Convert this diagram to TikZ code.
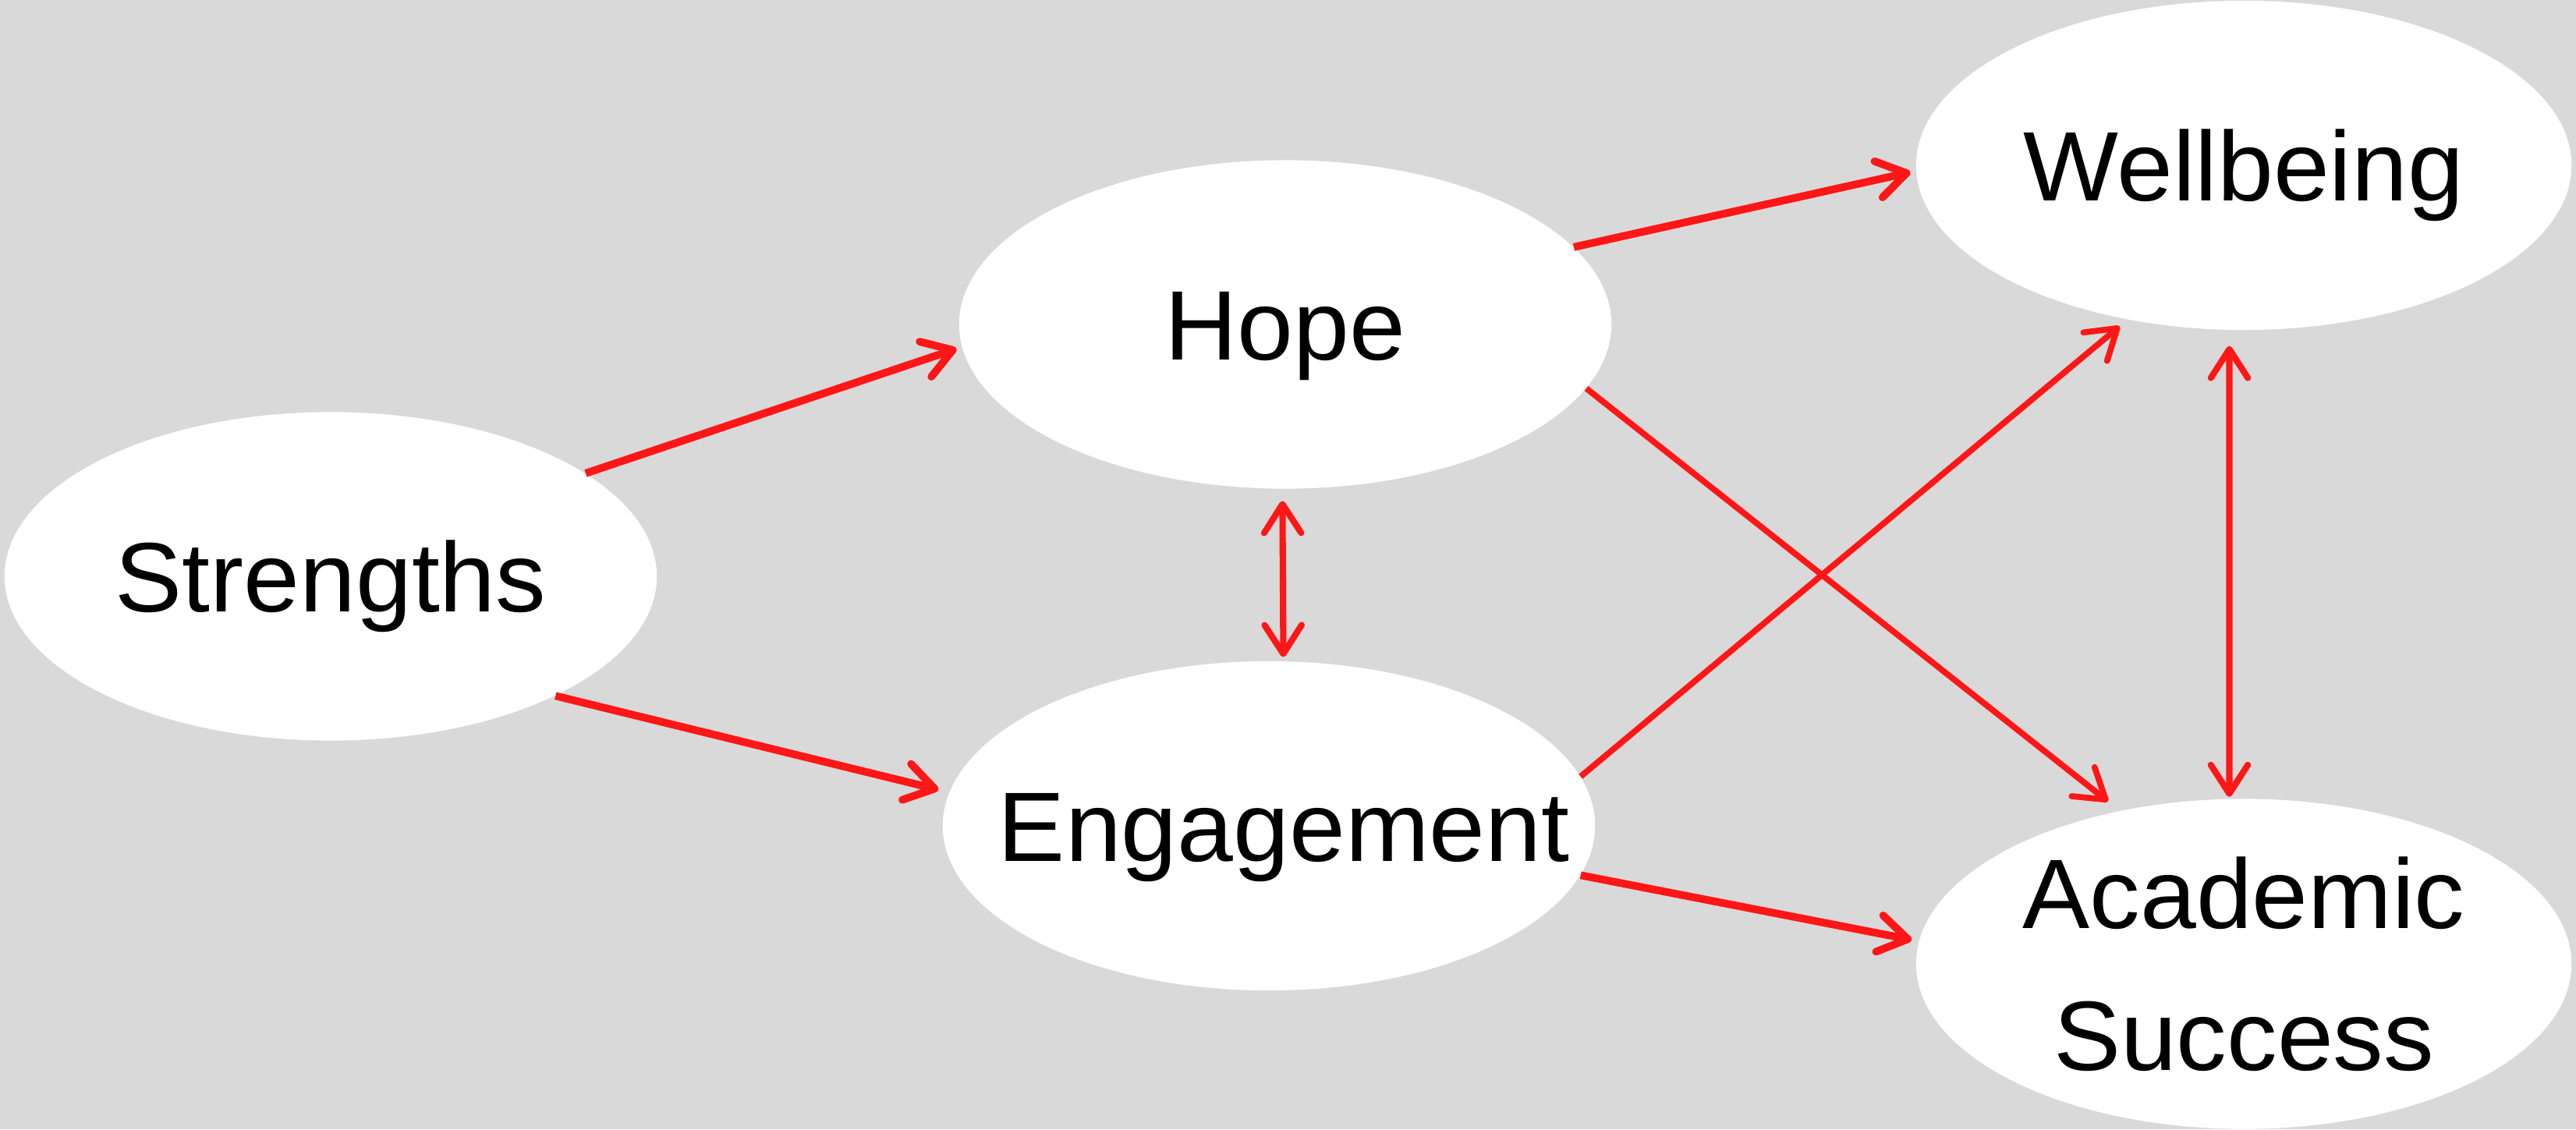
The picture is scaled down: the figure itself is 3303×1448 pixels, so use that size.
\documentclass[tikz,border=0pt]{standalone}
\usepackage{fontspec}
\setmainfont{Liberation Sans}[FakeStretch=1.02]
\usetikzlibrary{arrows.meta,shapes.geometric}
\definecolor{bg}{RGB}{217,217,217}
\definecolor{arrred}{RGB}{255,22,22}
\tikzset{
  blob/.style={ellipse, fill=white, inner sep=0pt, minimum width=8.36cm, minimum height=4.21cm,
    font=\fontsize{36}{51.8}\selectfont, text height=25.8pt, text depth=0pt},
  barb/.tip={Straight Barb[length=10.5pt,width=13.5pt,round]},
  link/.style={draw=arrred, line width=2.8pt, -barb},
  thinlink/.style={draw=arrred, line width=2.2pt, -barb},
  dlink/.style={draw=arrred, line width=2.3pt, barb-barb}
}
\begin{document}
\begin{tikzpicture}[x=0.01cm,y=-0.01cm]
\fill[bg] (0,0) rectangle (3303,1448);
\useasboundingbox (0,0) rectangle (3303,1448);
\node[blob] (S) at (424,739) {\makebox[0pt]{Strengths}};
\node[blob] (H) at (1648,416) {\makebox[0pt]{Hope}};
\node[blob, minimum width=8.40cm, minimum height=4.22cm] (W) at (2877,212) {\makebox[0pt]{Wellbeing}};
\node[blob, minimum height=4.22cm] (E) at (1627,1059) {\makebox[0pt]{\hspace*{0.38cm}Engagement}};
\node[ellipse, fill=white, inner sep=0pt, minimum width=8.40cm, minimum height=4.23cm,
  font=\fontsize{36}{51.8}\selectfont, align=center] (A) at (2877,1236) {Academic\\Success};
\draw[link, shorten >=2pt] (S.22) -- (H.184.6);
\draw[link, shorten >=4pt] (S.-28) -- (E.174.5);
\draw[link, shorten >=2pt] (H.15) -- (W.181);
\draw[thinlink, shorten >=5.4pt] (H.-12.7) -- (A.129.8);
\draw[thinlink, shorten >=3.7pt] (E.9) -- (W.233.7);
\draw[link, shorten >=2.6pt] (E.-9.9) -- (A.176.2);
\draw[dlink, shorten <=4.3pt, shorten >=1.4pt] (H.-91.4) -- (E.85.7);
\draw[dlink, shorten <=5.7pt, shorten >=0.6pt] (W.-95.7) -- (A.95.7);
\end{tikzpicture}
\end{document}
